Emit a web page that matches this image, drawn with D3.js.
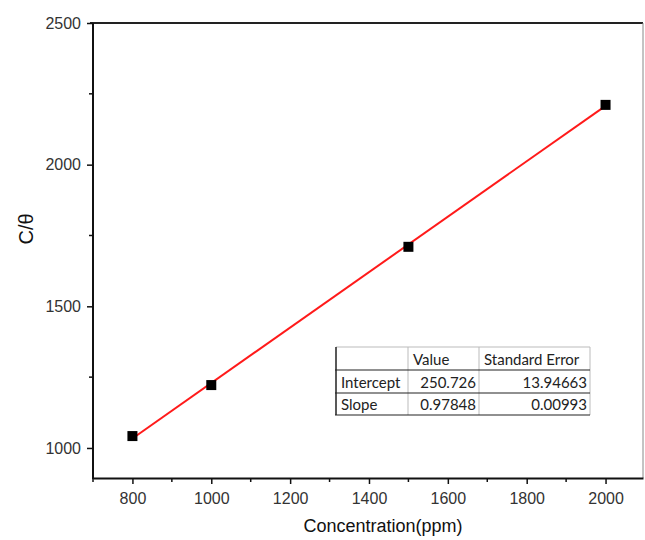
<!DOCTYPE html>
<html>
<head>
<meta charset="utf-8">
<script src="https://cdn.jsdelivr.net/npm/d3@7"></script>
<style>
  body { margin: 0; background: #fff; }
  svg { display: block; }
</style>
</head>
<body>
<svg width="645" height="540"></svg>
<script>
// data
var conc = [800, 1000, 1500, 2000];
var ratio = [1042, 1222, 1710, 2211];

// fit table
var fitHeader = ["", "Value", "Standard Error"];
var fitRows = [
	["Intercept", "250.726", "13.94663"],
	["Slope", "0.97848", "0.00993"]
];
var intercept = 250.726, slope = 0.97848;

var xTicks = [800, 1000, 1200, 1400, 1600, 1800, 2000];
var yTicks = [1000, 1500, 2000, 2500];

var svg = d3.select("svg");
var pLeft = 93, pRight = 643, pTop = 23, pBottom = 478;

var x = d3.scaleLinear().domain([700, 2095]).range([pLeft, pRight]);
var y = d3.scaleLinear().domain([894, 2500]).range([pBottom, pTop]);

// frame: top and right
svg.append("line")
	.attr("x1", pLeft - 3).attr("x2", pRight).attr("y1", pTop).attr("y2", pTop)
	.attr("stroke", "#222").attr("stroke-width", 2);
svg.append("line")
	.attr("x1", pRight).attr("x2", pRight).attr("y1", pTop).attr("y2", pBottom)
	.attr("stroke", "#888").attr("stroke-width", 1);

// minor ticks
var xMinor = d3.range(700, 2095, 100).filter(function(d){ return xTicks.indexOf(d) < 0; });
var yMinor = [1250, 1750, 2250];

svg.selectAll(".xminor").data(xMinor).enter().append("line")
	.attr("x1", function(d){ return x(d); }).attr("x2", function(d){ return x(d); })
	.attr("y1", pBottom).attr("y2", pBottom + 4)
	.attr("stroke", "#111").attr("stroke-width", 1.5);

svg.selectAll(".yminor").data(yMinor).enter().append("line")
	.attr("x1", pLeft).attr("x2", pLeft - 4)
	.attr("y1", function(d){ return y(d); }).attr("y2", function(d){ return y(d); })
	.attr("stroke", "#111").attr("stroke-width", 1.5);

// axes
var xAxis = svg.append("g")
	.attr("transform", "translate(0," + pBottom + ")")
	.call(d3.axisBottom(x).tickValues(xTicks).tickFormat(d3.format("d"))
		.tickSize(6).tickPadding(9).tickSizeOuter(0));
var yAxis = svg.append("g")
	.attr("transform", "translate(" + pLeft + ",0)")
	.call(d3.axisLeft(y).tickValues(yTicks).tickFormat(d3.format("d"))
		.tickSize(6).tickPadding(6).tickSizeOuter(0));

[xAxis, yAxis].forEach(function(g){
	g.select(".domain").attr("stroke", "#111").attr("stroke-width", 2);
	g.selectAll(".tick line").attr("stroke", "#111").attr("stroke-width", 1.5);
	g.selectAll(".tick text")
		.attr("font-family", "Liberation Sans, Arial, sans-serif")
		.attr("font-size", 16)
		.attr("fill", "#333");
});
yAxis.select(".domain").attr("d", "M0," + (pBottom + 1) + "V" + pTop);

// axis titles
svg.append("text")
	.attr("x", 383).attr("y", 532)
	.attr("text-anchor", "middle")
	.attr("font-family", "Liberation Sans, Arial, sans-serif")
	.attr("font-size", 18)
	.attr("fill", "#111")
	.text("Concentration(ppm)");

svg.append("text")
	.attr("transform", "translate(33,229) rotate(-90)")
	.attr("text-anchor", "middle")
	.attr("font-family", "Liberation Sans, Arial, sans-serif")
	.attr("font-size", 20)
	.attr("fill", "#111")
	.text("C/θ");

// fit line
var fx = d3.extent(conc);
svg.append("line")
	.attr("x1", x(fx[0])).attr("y1", y(intercept + slope * fx[0]))
	.attr("x2", x(fx[1])).attr("y2", y(intercept + slope * fx[1]))
	.attr("stroke", "#ff1a1a").attr("stroke-width", 2);

// points
svg.selectAll(".pt").data(conc).enter().append("rect")
	.attr("x", function(d){ return x(d) - 5; })
	.attr("y", function(d, i){ return y(ratio[i]) - 5; })
	.attr("width", 10).attr("height", 10)
	.attr("fill", "#000");

// fit table
var colX = [336, 408, 479, 590];
var rowY = [347, 370, 393, 415];

var tbl = svg.append("g");
tbl.append("rect")
	.attr("x", colX[0]).attr("y", rowY[0])
	.attr("width", colX[3] - colX[0]).attr("height", rowY[3] - rowY[0])
	.attr("fill", "#fff");

// light grid
tbl.append("line")
	.attr("x1", colX[0]).attr("x2", colX[3]).attr("y1", rowY[0]).attr("y2", rowY[0])
	.attr("stroke", "#bbb").attr("stroke-width", 1);
[1, 2, 3].forEach(function(c){
	tbl.append("line")
		.attr("x1", colX[c]).attr("x2", colX[c]).attr("y1", rowY[0]).attr("y2", rowY[3])
		.attr("stroke", "#bbb").attr("stroke-width", 1);
});
// dark row lines and left border
[1, 2, 3].forEach(function(r){
	tbl.append("line")
		.attr("x1", colX[0] - 1).attr("x2", colX[3]).attr("y1", rowY[r]).attr("y2", rowY[r])
		.attr("stroke", "#222").attr("stroke-width", 1.2);
});
tbl.append("line")
	.attr("x1", colX[0]).attr("x2", colX[0]).attr("y1", rowY[0]).attr("y2", rowY[3])
	.attr("stroke", "#222").attr("stroke-width", 1.5);

var allRows = [fitHeader].concat(fitRows);
allRows.forEach(function(row, r){
	row.forEach(function(cell, c){
		var isNum = r > 0 && c > 0;
		tbl.append("text")
			.attr("x", isNum ? colX[c + 1] - 3 : colX[c] + 5)
			.attr("y", rowY[r + 1] - 5)
			.attr("text-anchor", isNum ? "end" : "start")
			.attr("font-family", "Lato, Open Sans, sans-serif")
			.attr("font-size", 15)
			.attr("fill", "#222")
			.text(cell);
	});
});
</script>
</body>
</html>
